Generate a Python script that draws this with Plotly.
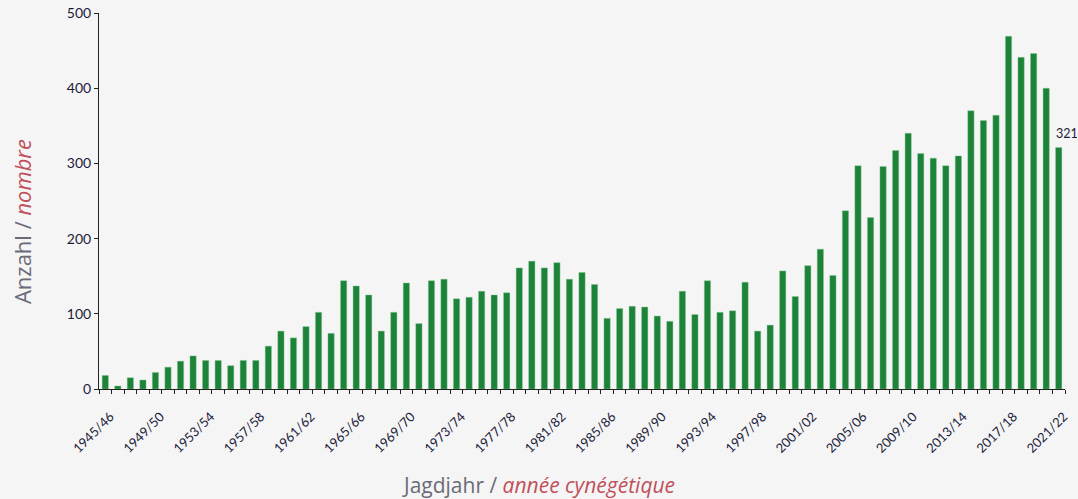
import plotly.graph_objects as go

# Hunting seasons 1945/46 .. 2021/22
seasons = [f"{y}/{(y + 1) % 100:02d}" for y in range(1945, 2022)]

counts = [
    18, 4, 15, 12, 22, 29, 37, 44, 38, 38,
    31, 38, 38, 57, 77, 68, 83, 102, 74, 144,
    137, 125, 77, 102, 141, 87, 144, 146, 120, 122,
    130, 125, 128, 161, 170, 161, 168, 146, 155, 139,
    94, 107, 110, 109, 97, 90, 130, 99, 144, 102,
    104, 142, 77, 85, 157, 123, 164, 186, 151, 237,
    297, 228, 296, 317, 340, 313, 307, 297, 310, 370,
    357, 364, 469, 441, 446, 400, 321,
]

label_every = 4
tick_text = [s if i % label_every == 0 else "" for i, s in enumerate(seasons)]

BG = "#f5f5f5"
BAR = "#1c8338"
INK = "#1c1c3a"
GREY = "#6b6b78"
RED = "#c0505a"
FONT = "Lato, 'Open Sans', sans-serif"
TITLE_FONT = "'Open Sans', Lato, sans-serif"

fig = go.Figure(go.Bar(
    x=seasons,
    y=counts,
    marker=dict(color=BAR, line=dict(color="rgba(140,200,155,0.7)", width=0.6)),
    width=0.5,
    hoverinfo="x+y",
))

fig.add_annotation(
    x=seasons[-1], y=counts[-1], text=str(counts[-1]),
    showarrow=False, xshift=8, yshift=14,
    font=dict(size=12.5, color=INK, family=FONT),
)

# axis titles (bilingual, two colours)
fig.add_annotation(
    xref="paper", yref="paper", x=-0.0797, y=0.444, textangle=-90,
    xanchor="center", yanchor="middle",
    text=f"<span style='color:{GREY}'>Anzahl / </span><i style='color:{RED}'>nombre</i>",
    showarrow=False, font=dict(size=22, family=TITLE_FONT),
)
fig.add_annotation(
    xref="paper", yref="paper", x=0.4545, y=-0.254,
    xanchor="center", yanchor="middle",
    text=f"<span style='color:{GREY}'>Jagdjahr / </span><i style='color:{RED}'>année cynégétique</i>",
    showarrow=False, font=dict(size=21, family=TITLE_FONT),
)

fig.update_layout(
    width=1078, height=499,
    paper_bgcolor=BG, plot_bgcolor=BG,
    margin=dict(l=99, r=13, t=13, b=110),
    font=dict(family=FONT, color=INK),
    showlegend=False,
)
fig.update_xaxes(
    type="category", automargin=False,
    range=[-0.5, len(seasons) - 0.5],
    tickmode="array", tickvals=seasons, ticktext=tick_text,
    tickson="boundaries", ticks="outside", ticklen=4, tickcolor="#222",
    tickangle=-45, tickfont=dict(size=13, color=INK),
    ticklabelstandoff=14, ticklabelshift=5,
    showline=True, linecolor="#222", linewidth=1,
    showgrid=False, zeroline=False,
)
fig.update_yaxes(
    range=[0, 500], dtick=100, automargin=False,
    ticks="outside", ticklen=4, tickcolor="#222",
    tickfont=dict(size=14, color=INK),
    showline=True, linecolor="#222", linewidth=1,
    showgrid=False, zeroline=False,
)

# drop the default page margin so the figure sits flush in the window
fig.write_html(
    "out.html",
    config={"displayModeBar": False},
    post_script="document.body.style.margin='0';document.body.style.background='%s';" % BG,
)
